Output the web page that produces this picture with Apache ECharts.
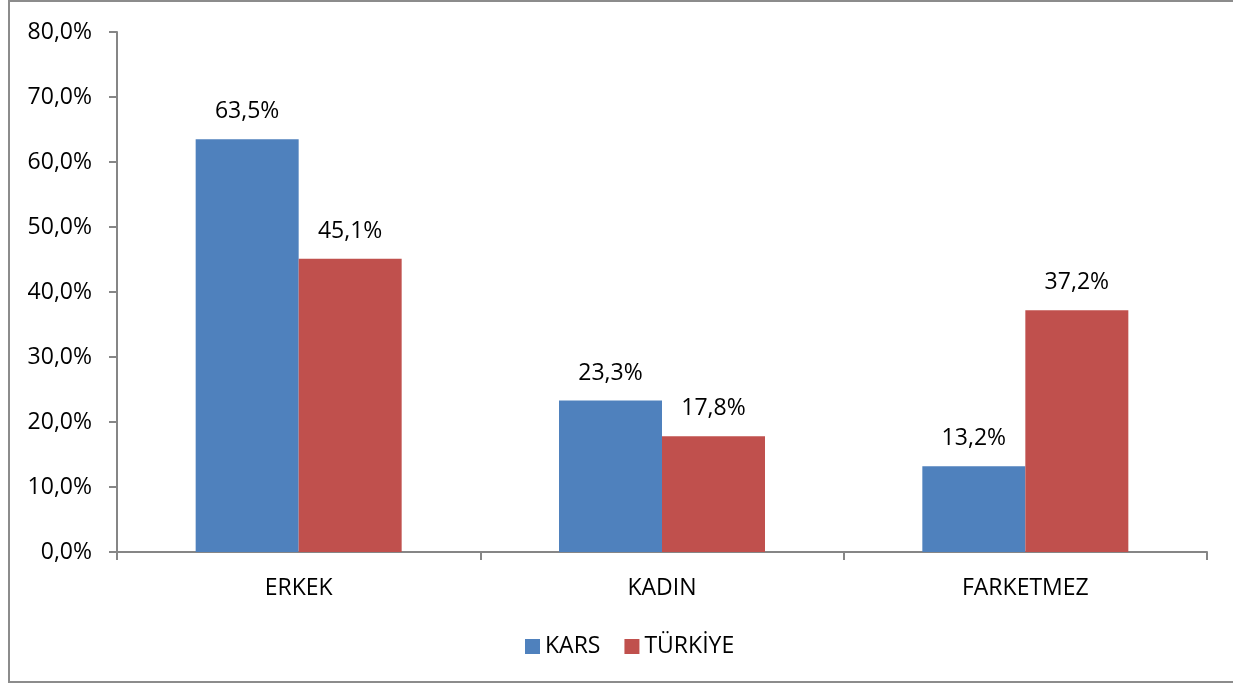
<!DOCTYPE html>
<html>
<head>
<meta charset="utf-8">
<script src="https://cdn.jsdelivr.net/npm/echarts@6/dist/echarts.min.js"></script>
<style>
  html, body { margin: 0; padding: 0; background: #fff; }
  #chart { width: 1233px; height: 684px; }
</style>
</head>
<body>
<div id="chart"></div>
<script>
// kategoriler ve seriler
var categories = ['ERKEK', 'KADIN', 'FARKETMEZ'];
var karsValues = [63.5, 23.3, 13.2];
var turkiyeValues = [45.1, 17.8, 37.2];
var seriesNames = ['KARS', 'TÜRKİYE'];

var FONT = '"Open Sans", "Liberation Sans", sans-serif';
var FS = 23;

function pct(v, digits) {
  return v.toFixed(digits).replace('.', ',') + '%';
}

var myChart = echarts.init(document.getElementById('chart'));

function barLabel() {
  return {
    show: true,
    position: 'top',
    distance: 16,
    color: '#000',
    fontFamily: FONT,
    fontSize: FS,
    formatter: function (p) { return pct(p.value, 1); }
  };
}

var option = {
  backgroundColor: '#fff',
  animation: false,
  graphic: [{
    type: 'rect',
    shape: { x: 9, y: 1, width: 1232, height: 681 },
    style: { fill: 'none', stroke: '#8c8c8c', lineWidth: 2 },
    silent: true
  }],
  grid: { left: 117, right: 26, top: 32, bottom: 132 },
  legend: {
    bottom: 21,
    left: 520,
    itemWidth: 15,
    itemHeight: 15,
    itemGap: 24,
    icon: 'rect',
    textStyle: { color: '#000', fontFamily: FONT, fontSize: FS },
    data: seriesNames
  },
  xAxis: {
    type: 'category',
    data: categories,
    axisLine: { lineStyle: { color: '#868686', width: 2 } },
    axisTick: { show: true, length: 8, lineStyle: { color: '#868686', width: 2 } },
    axisLabel: { color: '#000', fontFamily: FONT, fontSize: FS, margin: 25 }
  },
  yAxis: {
    type: 'value',
    min: 0,
    max: 80,
    interval: 10,
    axisLine: { show: true, lineStyle: { color: '#868686', width: 2 } },
    axisTick: { show: true, length: 8, lineStyle: { color: '#868686', width: 2 } },
    splitLine: { show: false },
    axisLabel: {
      color: '#000', fontFamily: FONT, fontSize: FS, margin: 25,
      formatter: function (v) { return pct(v, 1); }
    }
  },
  series: [
    {
      name: seriesNames[0],
      type: 'bar',
      data: karsValues,
      barWidth: 103,
      barGap: '0%',
      itemStyle: { color: '#4f81bd' },
      label: barLabel()
    },
    {
      name: seriesNames[1],
      type: 'bar',
      data: turkiyeValues,
      barWidth: 103,
      barGap: '0%',
      itemStyle: { color: '#c0504d' },
      label: barLabel()
    }
  ]
};

myChart.setOption(option);
</script>
</body>
</html>
